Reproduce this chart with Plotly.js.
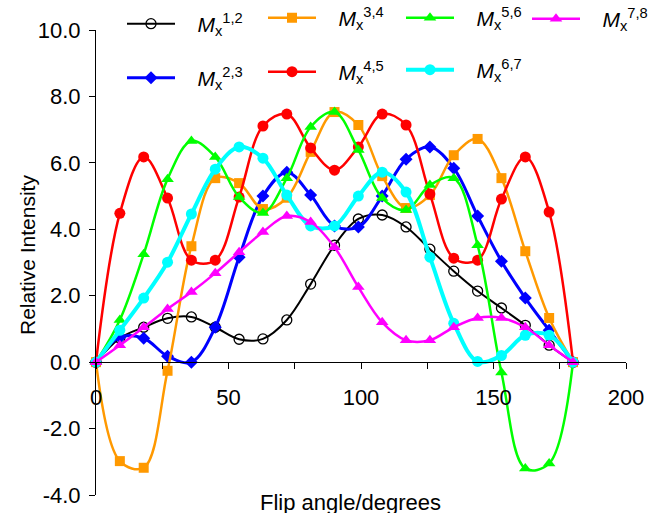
<!DOCTYPE html>
<html>
<head>
<meta charset="utf-8">
<script src="https://cdn.plot.ly/plotly-3.0.1.min.js"></script>
<style>
  html, body { margin: 0; padding: 0; background: #ffffff; }
  #chart { width: 649px; height: 513px; }
</style>
</head>
<body>
<div id="chart"></div>
<script>
// Flip angle (degrees) at which each intensity was sampled
const flipAngle = [0, 9, 18, 27, 36, 45, 54, 63, 72, 81, 90, 99, 108, 117, 126, 135, 144, 153, 162, 171, 180];

// Relative intensity of each transition
const mx12 = [0, 0.72, 1.05, 1.32, 1.36, 1.05, 0.69, 0.70, 1.27, 2.35, 3.52, 4.31, 4.43, 4.07, 3.40, 2.74, 2.14, 1.63, 1.11, 0.51, 0];
const mx23 = [0, 0.75, 0.72, 0.18, 0.00, 1.05, 3.16, 5.00, 5.72, 5.03, 4.10, 4.07, 5.00, 6.11, 6.48, 5.84, 4.40, 3.04, 1.93, 0.96, 0];
const mx34 = [0, -2.98, -3.18, -0.26, 3.49, 5.54, 5.39, 4.61, 4.95, 6.33, 7.53, 7.14, 5.60, 4.64, 5.03, 6.23, 6.72, 5.54, 3.34, 1.33, 0];
const mx45 = [0, 4.48, 6.18, 4.94, 3.07, 3.07, 4.97, 7.11, 7.47, 6.45, 5.78, 6.48, 7.47, 7.14, 5.06, 3.13, 3.07, 4.91, 6.18, 4.52, 0];
const mx56 = [0, 1.27, 3.25, 5.51, 6.66, 6.18, 4.97, 4.49, 5.54, 7.08, 7.53, 6.39, 4.94, 4.58, 5.33, 5.54, 3.52, -0.31, -3.20, -3.05, 0];
const mx67 = [0, 0.96, 1.93, 3.01, 4.46, 5.81, 6.48, 6.14, 5.03, 4.10, 4.10, 5.00, 5.72, 5.12, 3.16, 1.17, 0.02, 0.20, 0.81, 0.81, 0];
const mx78 = [0, 0.51, 1.05, 1.60, 2.11, 2.68, 3.31, 3.92, 4.40, 4.22, 3.46, 2.26, 1.20, 0.66, 0.66, 1.05, 1.33, 1.33, 1.05, 0.51, 0];

// Series names (legend labels); the leading no-break spaces open a gap after the legend line
const seriesNames = [
  '&nbsp;&nbsp;&nbsp;<i>M</i><sub>x</sub><sup>1,2</sup>',
  '&nbsp;&nbsp;&nbsp;<i>M</i><sub>x</sub><sup>2,3</sup>',
  '&nbsp;&nbsp;&nbsp;<i>M</i><sub>x</sub><sup>3,4</sup>',
  '&nbsp;&nbsp;&nbsp;<i>M</i><sub>x</sub><sup>4,5</sup>',
  '&nbsp;&nbsp;&nbsp;<i>M</i><sub>x</sub><sup>5,6</sup>',
  '&nbsp;&nbsp;&nbsp;<i>M</i><sub>x</sub><sup>6,7</sup>',
  '&nbsp;&nbsp;&nbsp;<i>M</i><sub>x</sub><sup>7,8</sup>'
];

// Axis ticks
const xTickVals = [0, 50, 100, 150, 200];
const xTickText = ['0', '50', '100', '150', '200'];
const xMinorTickVals = [25, 75, 125, 175];
const yTickVals = [-4, -2, 0, 2, 4, 6, 8, 10];
const yTickText = ['-4.0', '-2.0', '0.0', '2.0', '4.0', '6.0', '8.0', '10.0'];

const FONT = 'Arial, "Liberation Sans", sans-serif';

// Per-series styling
const styles = [
  { y: mx12, color: '#000000', width: 2,   symbol: 'circle-open', size: 10, legend: 'legend'  },
  { y: mx23, color: '#0000ff', width: 3,   symbol: 'diamond',     size: 10, legend: 'legend5' },
  { y: mx34, color: '#ff9900', width: 2.5, symbol: 'square',      size: 10, legend: 'legend2' },
  { y: mx45, color: '#ff0000', width: 2.5, symbol: 'circle',      size: 11, legend: 'legend6' },
  { y: mx56, color: '#00ff00', width: 2.5, symbol: 'triangle-up', size: 11, legend: 'legend3' },
  { y: mx67, color: '#00ffff', width: 4,   symbol: 'circle',      size: 11, legend: 'legend7' },
  { y: mx78, color: '#ff00ff', width: 2.5, symbol: 'triangle-up', size: 11, legend: 'legend4' }
];

const traces = styles.map((s, i) => ({
  type: 'scatter',
  mode: 'lines+markers',
  x: flipAngle,
  y: s.y,
  name: seriesNames[i],
  legend: s.legend,
  cliponaxis: false,
  line: { color: s.color, width: s.width, shape: 'spline', smoothing: 1 },
  marker: {
    symbol: s.symbol,
    size: s.size,
    color: s.color,
    line: { color: s.color, width: s.symbol === 'circle-open' ? 1.3 : 0 }
  }
}));

// Convert pixel positions in the 649x513 figure to paper coordinates
const M = { l: 96, r: 23, t: 30, b: 18 };
const plotW = 649 - M.l - M.r;
const plotH = 513 - M.t - M.b;
const px = x => (x - M.l) / plotW;
const py = y => 1 - (y - M.t) / plotH;

function legendAt(xLeft, yMid) {
  return {
    x: px(xLeft), y: py(yMid), xanchor: 'left', yanchor: 'middle',
    bgcolor: 'rgba(0,0,0,0)', borderwidth: 0,
    font: { family: FONT, size: 21, color: '#000000' },
    itemwidth: 48
  };
}

const layout = {
  width: 649,
  height: 513,
  margin: { l: M.l, r: M.r, t: M.t, b: M.b, autoexpand: false },
  paper_bgcolor: '#ffffff',
  plot_bgcolor: '#ffffff',
  font: { family: FONT, size: 22, color: '#000000' },
  showlegend: true,
  legend:  legendAt(122, 24),
  legend2: legendAt(263, 18),
  legend3: legendAt(401, 18),
  legend4: legendAt(527, 19),
  legend5: legendAt(122, 78),
  legend6: legendAt(263, 72),
  legend7: legendAt(401, 70),
  xaxis: {
    range: [0, 200],
    anchor: 'free',
    position: 4 / 14,
    showgrid: false,
    zeroline: false,
    showline: true,
    linecolor: '#000000',
    linewidth: 1,
    ticks: 'outside',
    ticklen: 6,
    tickwidth: 1,
    tickcolor: '#000000',
    tickmode: 'array',
    tickvals: xTickVals,
    ticktext: xTickText,
    minor: {
      tickmode: 'array',
      tickvals: xMinorTickVals,
      ticks: 'outside',
      ticklen: 6,
      tickwidth: 1,
      tickcolor: '#000000',
      showgrid: false
    },
    ticklabelstandoff: 9,
    tickfont: { family: FONT, size: 22, color: '#000000' }
  },
  yaxis: {
    range: [-4, 10],
    showgrid: false,
    zeroline: false,
    showline: true,
    linecolor: '#000000',
    linewidth: 1,
    ticks: 'outside',
    ticklen: 6,
    tickwidth: 1,
    tickcolor: '#000000',
    tickmode: 'array',
    tickvals: yTickVals,
    ticktext: yTickText,
    ticklabelstandoff: 4,
    tickfont: { family: FONT, size: 22, color: '#000000' }
  },
  annotations: [
    {
      text: 'Flip angle/degrees', xref: 'paper', yref: 'paper',
      x: px(350), y: py(503), xanchor: 'center', yanchor: 'middle',
      showarrow: false, font: { family: FONT, size: 22, color: '#000000' }
    },
    {
      text: 'Relative Intensity', xref: 'paper', yref: 'paper',
      x: px(27), y: py(255), xanchor: 'center', yanchor: 'middle',
      textangle: -90, showarrow: false,
      font: { family: FONT, size: 21, color: '#000000' }
    }
  ]
};

Plotly.newPlot('chart', traces, layout, { displayModeBar: false, staticPlot: true });
</script>
</body>
</html>
